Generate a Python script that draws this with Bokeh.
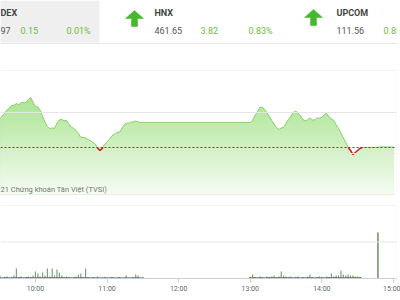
import numpy as np
from bokeh.plotting import figure
from bokeh.models import Range1d, Span, BoxAnnotation, Label, FixedTicker
from bokeh.embed import file_html
from bokeh.resources import INLINE

# ---------------- data ----------------
ref_value = 1321.46          # reference (previous close)
step_min = 2                 # minutes between samples
morning_start = 564          # 09:24 (minutes since midnight)
morning_close = [
    1327.80, 1328.05, 1328.17, 1328.41, 1329.02, 1329.76, 1330.49, 1330.98, 1331.71, 1331.71,
    1332.20, 1331.83, 1332.44, 1332.44, 1332.44, 1333.17, 1333.66, 1332.44, 1331.46, 1331.34,
    1330.49, 1329.02, 1327.56, 1326.59, 1326.10, 1326.22, 1326.10, 1327.32, 1328.17, 1328.29,
    1327.93, 1328.05, 1327.20, 1326.46, 1326.10, 1325.61, 1324.88, 1323.90, 1323.90, 1323.78,
    1323.41, 1323.17, 1322.68, 1322.32, 1321.34, 1320.73, 1321.22, 1322.20, 1322.80, 1323.41,
    1324.27, 1324.63, 1325.12, 1325.00, 1325.85, 1326.83, 1327.44, 1327.32, 1327.68, 1327.68,
    1327.93, 1327.68, 1327.56, 1327.56]
afternoon_start = 780        # 13:00
afternoon_close = [
    1327.56, 1328.05, 1329.27, 1330.12, 1331.22, 1331.34, 1330.73, 1329.88, 1329.02, 1328.05,
    1327.07, 1326.34, 1325.85, 1326.22, 1326.34, 1327.32, 1328.29, 1329.02, 1330.00, 1330.37,
    1329.76, 1329.27, 1328.29, 1327.93, 1328.17, 1328.66, 1328.17, 1328.17, 1328.66, 1328.66,
    1328.78, 1329.51, 1329.76, 1328.90, 1328.41, 1328.05, 1326.95, 1326.10, 1324.88, 1323.78,
    1322.68, 1321.46, 1320.73, 1319.76, 1320.24, 1320.73, 1321.22, 1321.48, 1321.48, 1321.48,
    1321.48, 1321.48, 1321.48, 1321.48, 1321.61, 1321.61, 1321.61, 1321.61, 1321.61, 1321.61,
    1321.61]
vol_morning = [
    1640, 820, 1100, 820, 550, 820, 1100, 550, 820, 1640,
    5480, 820, 1100, 550, 820, 1100, 820, 1640, 3840, 2740,
    1100, 3290, 1640, 5480, 1100, 5480, 1640, 4930, 3290, 1640,
    820, 1100, 820, 550, 820, 1100, 2190, 2740, 820, 5480,
    820, 550, 820, 550, 1100, 550, 550, 820, 550, 550,
    820, 550, 550, 820, 550, 550, 1640, 550, 550, 820,
    2190, 1640, 550, 550]
vol_afternoon = [
    820, 2190, 820, 550, 1100, 820, 550, 1100, 820, 1100,
    1640, 820, 1100, 3840, 1640, 1100, 820, 1100, 550, 820,
    1100, 550, 820, 550, 1100, 2190, 820, 550, 820, 1100,
    820, 550, 1100, 820, 2740, 1100, 1640, 1640, 4380, 2190,
    1640, 2190, 1640, 1640, 1100, 1100, 820]
atc_time = 887
atc_volume = 25200
tick_times = [600, 660, 720, 780, 840, 900]
tick_labels = ["10:00", "11:00", "12:00", "13:00", "14:00", "15:00"]
index_names = ["DEX", "HNX", "UPCOM"]
index_values = ["97", "461.65", "111.56"]
index_changes = ["0.15", "3.82", "0.80"]
index_pcts = ["0.01%", "0.83%"]
credit_text = "21 Chứng khoán Tân Việt (TVSI)"

# ---------------- derived series ----------------
t_m = list(range(morning_start, morning_start + step_min * len(morning_close), step_min))
t_a = list(range(afternoon_start, afternoon_start + step_min * len(afternoon_close), step_min))
t_all = np.array(t_m + t_a, dtype=float)
v_all = np.array(morning_close + afternoon_close, dtype=float)

vt = list(range(morning_start, morning_start + step_min * len(vol_morning), step_min)) + \
     list(range(afternoon_start, afternoon_start + step_min * len(vol_afternoon), step_min))
vv = np.array(vol_morning + vol_afternoon, dtype=float)

# ---------------- figure ----------------
W, H = 400, 300
frame_w = 396
px_per_min = 1.1933
x0 = 570.7
p = figure(width=W, height=H, output_backend="svg", toolbar_location=None,
           x_range=Range1d(x0, x0 + frame_w / px_per_min),
           y_range=Range1d(1289.51, 1357.31),
           y_axis_location=None, min_border_left=0, min_border_right=4,
           min_border_top=0, min_border_bottom=22)
p.outline_line_color = None
p.xgrid.visible = False
p.ygrid.visible = False
p.background_fill_color = "white"
p.border_fill_color = "white"
p.extra_x_ranges = {"px": Range1d(0, frame_w)}
p.extra_y_ranges = {"hdr": Range1d(278, 0), "vol": Range1d(0, 152329)}

# header
p.add_layout(BoxAnnotation(left=-5, right=99, top=0, bottom=42, x_range_name="px", y_range_name="hdr",
                           fill_color="#efefef", fill_alpha=1, line_color=None, level="underlay"))
p.add_layout(Span(location=43, dimension="width", y_range_name="hdr", line_color="#e6e6e6", line_width=1))

def arrow(cx, top):
    return ([cx, cx + 9, cx + 3, cx + 3, cx - 3, cx - 3, cx - 9],
            [top, top + 8, top + 8, top + 16, top + 16, top + 8, top + 8])

ax1, ay1 = arrow(134, 10)
ax2, ay2 = arrow(313, 9)
p.patches(xs=[ax1, ax2], ys=[ay1, ay2], x_range_name="px", y_range_name="hdr",
          fill_color="#45b82b", line_color="#45b82b", line_width=0.5)

name_x = [0, 154, 336]
chg_x = [20, 200, 383]
pct_x = [66, 248]
for i in range(3):
    p.add_layout(Label(x=name_x[i], y=12, text=index_names[i], x_range_name="px", y_range_name="hdr",
                       text_font="Roboto", text_font_size="9px", text_font_style="bold",
                       text_color="#444444", text_baseline="middle"))
    p.add_layout(Label(x=name_x[i], y=30, text=index_values[i], x_range_name="px", y_range_name="hdr",
                       text_font="Roboto", text_font_size="9px", text_color="#555555", text_baseline="middle"))
    p.add_layout(Label(x=chg_x[i], y=30, text=index_changes[i], x_range_name="px", y_range_name="hdr",
                       text_font="Roboto", text_font_size="9px", text_color="#6dbb45", text_baseline="middle"))
for i in range(2):
    p.add_layout(Label(x=pct_x[i], y=30, text=index_pcts[i], x_range_name="px", y_range_name="hdr",
                       text_font="Roboto", text_font_size="9px", text_color="#6dbb45", text_baseline="middle"))

# gradient area fill (layered bands)
lo, hi = 1310.0, 1340.24
n = 40
edges = np.linspace(lo, hi, n + 1)
c_top = np.array([150, 222, 120])
c_bot = np.array([246, 252, 243])
for k in range(n, 0, -1):
    top = edges[k]
    mid = (edges[k] + edges[k - 1]) / 2
    f = (hi - mid) / (hi - lo)
    c = (c_top + (c_bot - c_top) * f).astype(int)
    col = "#%02x%02x%02x" % tuple(c)
    p.varea(x=t_all, y1=np.full(len(t_all), lo), y2=np.clip(v_all, lo, top), fill_color=col)

# grid lines
for g in (1320, 1330):
    p.add_layout(Span(location=g, dimension="width", line_color="#e6e6e6", line_width=1))
p.add_layout(Span(location=20000, dimension="width", y_range_name="vol", line_color="#e6e6e6", line_width=1))

# reference line
p.add_layout(Span(location=ref_value, dimension="width", line_color="#9a3416",
                  line_dash="2 2", line_width=1))

# price line split green / red
green_xs, green_ys, red_xs, red_ys = [], [], [], []
cx, cy, cred = [t_all[0]], [v_all[0]], v_all[0] < ref_value
for i in range(1, len(t_all)):
    r = v_all[i] < ref_value
    if r == cred:
        cx.append(t_all[i]); cy.append(v_all[i])
    else:
        tc = t_all[i - 1] + (ref_value - v_all[i - 1]) * (t_all[i] - t_all[i - 1]) / (v_all[i] - v_all[i - 1])
        cx.append(tc); cy.append(ref_value)
        if cred:
            red_xs.append(cx); red_ys.append(cy)
        else:
            green_xs.append(cx); green_ys.append(cy)
        cx, cy, cred = [tc, t_all[i]], [ref_value, v_all[i]], r
if cred:
    red_xs.append(cx); red_ys.append(cy)
else:
    green_xs.append(cx); green_ys.append(cy)
p.multi_line(xs=green_xs, ys=green_ys, line_color="#8fd46e", line_width=1)
p.multi_line(xs=red_xs, ys=red_ys, line_color="#d42020", line_width=1.6)

# panel borders
p.add_layout(BoxAnnotation(left=560, bottom=lo, top=hi, fill_alpha=0, line_color="#dcdcdc", line_width=1))
p.add_layout(BoxAnnotation(left=560, bottom=0, top=40000, y_range_name="vol",
                           fill_alpha=0, line_color="#dcdcdc", line_width=1))

# credit
p.add_layout(Label(x=0, y=189, text=credit_text, x_range_name="px", y_range_name="hdr",
                   text_font="Roboto", text_font_size="7.5px", text_color="#777777", text_baseline="middle"))

# volume
p.vbar(x=vt, top=vv, bottom=0, width=1.0, y_range_name="vol", fill_color="#8a9a84", line_color=None)
p.vbar(x=vt, top=np.minimum(vv, 700), bottom=0, width=2.05, y_range_name="vol",
       fill_color="#3f7a2c", line_color=None)
p.vbar(x=[atc_time], top=[atc_volume], bottom=0, width=1.0, y_range_name="vol",
       fill_color="#4a7040", line_color=None)

# x axis
xa = p.xaxis[0]
xa.ticker = FixedTicker(ticks=tick_times)
xa.major_label_overrides = {t: l for t, l in zip(tick_times, tick_labels)}
xa.axis_line_color = "#cccccc"
xa.major_tick_line_color = "#cccccc"
xa.major_tick_out = 4
xa.major_tick_in = 0
xa.minor_tick_line_color = None
xa.major_label_text_font = "Roboto"
xa.major_label_text_font_size = "7px"
xa.major_label_text_color = "#666666"
xa.major_label_standoff = 2

open("out.html", "w").write(file_html(p, INLINE))
